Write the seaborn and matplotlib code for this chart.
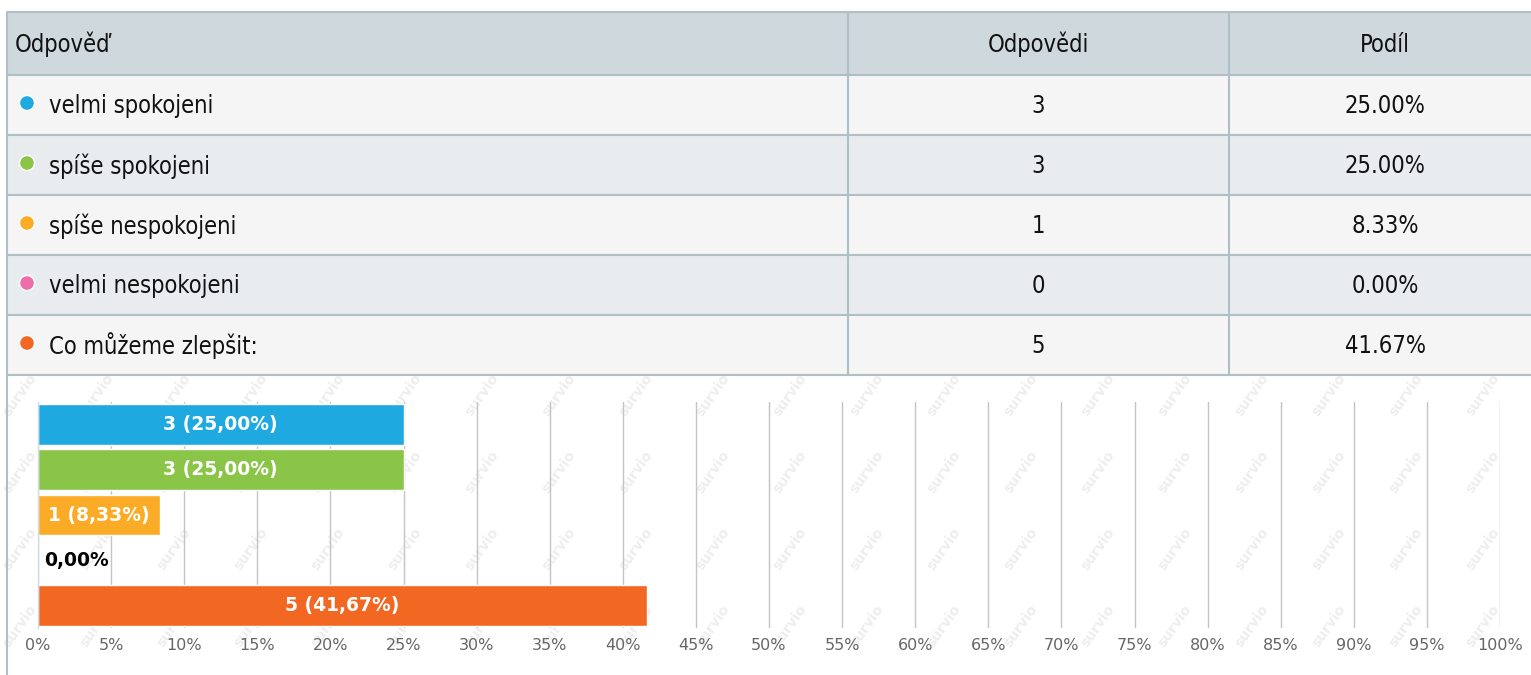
import matplotlib
matplotlib.use("Agg")
import matplotlib.pyplot as plt
import seaborn as sns
import pandas as pd
from matplotlib.patches import Rectangle, Circle

# ── Data ──────────────────────────────────────────────
answers = ["velmi spokojeni", "spíše spokojeni", "spíše nespokojeni",
           "velmi nespokojeni", "Co můžeme zlepšit:"]
counts = [3, 3, 1, 0, 5]
shares = [25.00, 25.00, 8.33, 0.00, 41.67]
colors = ["#1fa9e1", "#8bc548", "#fcab26", "#ec6fab", "#f26823"]
header = ["Odpověď", "Odpovědi", "Podíl"]
ticks = list(range(0, 101, 5))

df = pd.DataFrame({"answer": answers, "count": counts, "share": shares})

sns.set_theme(style="white")
tfont = dict(family=["DejaVu Sans"], fontstretch="condensed", fontsize=17, color="#111111")

W, H = 1531, 675
fig = plt.figure(figsize=(W / 100, H / 100), dpi=100)
fig.patch.set_facecolor("white")

# ── Background layer: table + watermark (pixel coords) ─
bg = fig.add_axes([0, 0, 1, 1])
bg.set_xlim(0, W)
bg.set_ylim(H, 0)
bg.axis("off")

row_h = 60
top = 12
head_h = 63
border = "#b0bec5"

bg.add_patch(Rectangle((7, top), W - 7, head_h, color="#cfd8dc", lw=0))
for i in range(len(answers)):
    y0 = top + head_h + i * row_h
    bg.add_patch(Rectangle((7, y0), W - 7, row_h,
                           color="#f5f5f5" if i % 2 == 0 else "#e9ecee", lw=0))

# table lines
ys = [top, top + head_h] + [top + head_h + (i + 1) * row_h for i in range(len(answers))]
for y in ys:
    bg.plot([7, W], [y, y], color=border, lw=1.5, solid_capstyle="butt")
bg.plot([7, 7], [top, H], color=border, lw=1.5)
for x in [848, 1229]:
    bg.plot([x, x], [top, ys[-1]], color=border, lw=1.5)

# header texts
hy = top + head_h / 2 + 1
bg.text(15, hy, header[0], va="center", ha="left", **tfont)
bg.text(1038, hy, header[1], va="center", ha="center", **tfont)
bg.text(1385, hy, header[2], va="center", ha="center", **tfont)

for i, row in df.iterrows():
    cy = top + head_h + i * row_h + row_h / 2 + 1
    bg.add_patch(Circle((27, cy - 3), 7.5, color=colors[i], ec="white", lw=1))
    bg.text(49, cy, row["answer"], va="center", **tfont)
    bg.text(1038, cy, str(row["count"]), va="center", ha="center", **tfont)
    bg.text(1385, cy, f"{row['share']:.2f}%", va="center", ha="center", **tfont)

# faint watermark
for wx in range(20, W - 20, 77):
    for wy in range(395, 640, 77):
        bg.text(wx, wy, "survio", fontsize=10, fontweight="bold", color="#eeeeee",
                rotation=55, ha="center", va="center", zorder=0)

# ── Bar chart ──────────────────────────────────────────
ax = fig.add_axes([38 / W, 1 - 628 / H, 1462 / W, (628 - 402) / H])
ax.patch.set_alpha(0)
sns.barplot(data=df, x="share", y="answer", hue="answer", palette=colors,
            width=0.9, legend=False, ax=ax, orient="h", saturation=1)

ax.set_xlim(0, 100)
ax.set_ylim(len(answers) - 0.5, -0.5)
ax.set_xticks(ticks)
ax.set_xticklabels([f"{t}%" for t in ticks], color="#666666", fontsize=11.5)
ax.tick_params(axis="x", length=0, pad=7)
ax.set_yticks([])
ax.set_xlabel("")
ax.set_ylabel("")
ax.set_axisbelow(True)
ax.xaxis.grid(True, color="#c4c4c4", lw=1)
for s in ["top", "right", "bottom"]:
    ax.spines[s].set_visible(False)
ax.spines["left"].set_color("#d0dce6")
ax.spines["left"].set_linewidth(1)

for i, (c, s) in enumerate(zip(counts, shares)):
    share_txt = f"{s:.2f}".replace(".", ",")
    if c > 0:
        ax.text(s / 2, i, f"{c} ({share_txt}%)", color="white", fontweight="bold",
                fontsize=13.5, ha="center", va="center")
    else:
        ax.text(0.4, i, f"{share_txt}%", color="black", fontweight="bold",
                fontsize=13.5, ha="left", va="center")

fig.savefig("out.png", dpi=100)
